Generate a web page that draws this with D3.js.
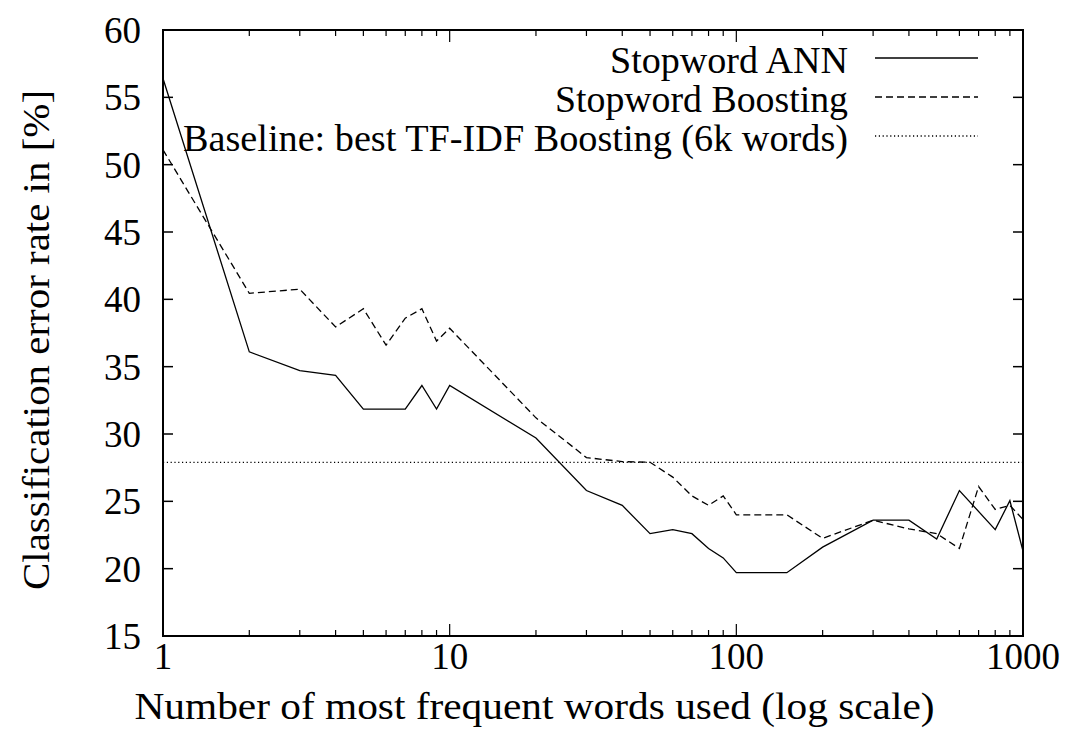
<!DOCTYPE html>
<html>
<head>
<meta charset="utf-8">
<script src="https://cdn.jsdelivr.net/npm/d3@7"></script>
<style>
  html, body { margin: 0; padding: 0; background: #fff; }
</style>
</head>
<body>
<svg id="chart" width="1069" height="749"></svg>
<script>
// ---- data ----
const annWords = [1, 2, 3, 4, 5, 6, 7, 8, 9, 10, 20, 30, 40, 50, 60, 70, 80, 90, 100, 150, 200, 300, 400, 500, 600, 800, 900, 1000];
const annError = [56.4, 36.1, 34.7, 34.35, 31.85, 31.85, 31.85, 33.6, 31.85, 33.6, 29.7, 25.8, 24.7, 22.6, 22.9, 22.6, 21.5, 20.8, 19.7, 19.7, 21.6, 23.6, 23.6, 22.2, 25.8, 22.9, 25.05, 21.3];
const boostWords = [1, 2, 3, 4, 5, 6, 7, 8, 9, 10, 20, 30, 40, 50, 60, 70, 80, 90, 100, 150, 200, 300, 400, 500, 600, 700, 800, 900, 1000];
const boostError = [51.1, 40.45, 40.75, 37.95, 39.3, 36.6, 38.6, 39.3, 36.9, 37.85, 31.2, 28.25, 27.95, 27.9, 26.8, 25.4, 24.7, 25.4, 24.0, 24.0, 22.25, 23.6, 22.95, 22.6, 21.5, 26.1, 24.4, 24.7, 23.65];
const baselineError = 27.9;
const legendLabels = ["Stopword ANN", "Stopword Boosting", "Baseline: best TF-IDF Boosting (6k words)"];
const xTickValues = [1, 10, 100, 1000];
const yTickValues = [15, 20, 25, 30, 35, 40, 45, 50, 55, 60];
const xLabel = "Number of most frequent words used (log scale)";
const yLabel = "Classification error rate in [%]";

(function () {
const FONT = "'Liberation Serif', 'Times New Roman', 'DejaVu Serif', serif";

// ---- layout ----
const pL = 163, pR = 1023, pT = 30, pB = 636;
const fontSize = 37;
const svg = d3.select("#chart");

const x = d3.scaleLog().domain([1, 1000]).range([pL, pR]);
const y = d3.scaleLinear().domain([15, 60]).range([pB, pT]);

const minor = [];
for (let d = 1; d < 1000; d *= 10) for (let k = 2; k <= 9; k++) minor.push(d * k);

const g = svg.append("g");

function vt(data, y1, y2) {
  g.append("g").selectAll("line").data(data).join("line")
    .attr("x1", d => x(d)).attr("x2", d => x(d))
    .attr("y1", y1).attr("y2", y2)
    .attr("stroke", "#000").attr("stroke-width", 1.2);
}
vt(minor, pB, pB - 6);
vt(minor, pT, pT + 6);
vt(xTickValues, pB, pB - 12);
vt(xTickValues, pT, pT + 12);

function ht(x1, x2) {
  g.append("g").selectAll("line").data(yTickValues).join("line")
    .attr("x1", x1).attr("x2", x2)
    .attr("y1", d => y(d)).attr("y2", d => y(d))
    .attr("stroke", "#000").attr("stroke-width", 1.5);
}
ht(pL, pL + 10);
ht(pR, pR - 10);

g.append("g").selectAll("text").data(xTickValues).join("text")
  .attr("x", d => x(d)).attr("y", 656).attr("dy", "0.35em")
  .attr("text-anchor", "middle").attr("font-size", fontSize).attr("font-family", FONT)
  .text(d => d);
g.append("g").selectAll("text").data(yTickValues).join("text")
  .attr("x", 141).attr("y", d => y(d)).attr("dy", "0.35em")
  .attr("text-anchor", "end").attr("font-size", fontSize).attr("font-family", FONT)
  .text(d => d);

svg.append("text").attr("x", 534.5).attr("y", 706).attr("dy", "0.35em")
  .attr("text-anchor", "middle").attr("font-size", fontSize).attr("font-family", FONT)
  .attr("textLength", 800).attr("lengthAdjust", "spacingAndGlyphs").text(xLabel);
svg.append("text").attr("transform", "translate(36,340) rotate(-90)")
  .attr("dy", "0.35em").attr("text-anchor", "middle").attr("font-size", fontSize).attr("font-family", FONT)
  .attr("textLength", 500).attr("lengthAdjust", "spacingAndGlyphs").text(yLabel);

svg.append("line")
  .attr("x1", pL).attr("x2", pR)
  .attr("y1", y(baselineError)).attr("y2", y(baselineError))
  .attr("stroke", "#000").attr("stroke-width", 1.2).attr("stroke-dasharray", "1.2,2.6");

const line = d3.line().x(d => x(d[0])).y(d => y(d[1]));
svg.append("path").datum(annWords.map((w, i) => [w, annError[i]]))
  .attr("d", line).attr("fill", "none").attr("stroke", "#000").attr("stroke-width", 1.3);
svg.append("path").datum(boostWords.map((w, i) => [w, boostError[i]]))
  .attr("d", line).attr("fill", "none").attr("stroke", "#000").attr("stroke-width", 1.3)
  .attr("stroke-dasharray", "7,4");

const legY = [58, 97, 136];
const legLen = [238, 293, 665];
const dashes = [null, "7,4", "1.2,2.6"];
legendLabels.forEach((t, i) => {
  svg.append("text").attr("x", 848).attr("y", legY[i] + 2).attr("dy", "0.35em")
    .attr("text-anchor", "end").attr("font-size", fontSize).attr("font-family", FONT)
    .attr("textLength", legLen[i]).attr("lengthAdjust", "spacingAndGlyphs").text(t);
  const l = svg.append("line").attr("x1", 875).attr("x2", 978)
    .attr("y1", legY[i]).attr("y2", legY[i])
    .attr("stroke", "#000").attr("stroke-width", 1.3);
  if (dashes[i]) l.attr("stroke-dasharray", dashes[i]);
});

svg.append("rect").attr("x", pL).attr("y", pT)
  .attr("width", pR - pL).attr("height", pB - pT)
  .attr("fill", "none").attr("stroke", "#000").attr("stroke-width", 2);
})();
</script>
</body>
</html>
